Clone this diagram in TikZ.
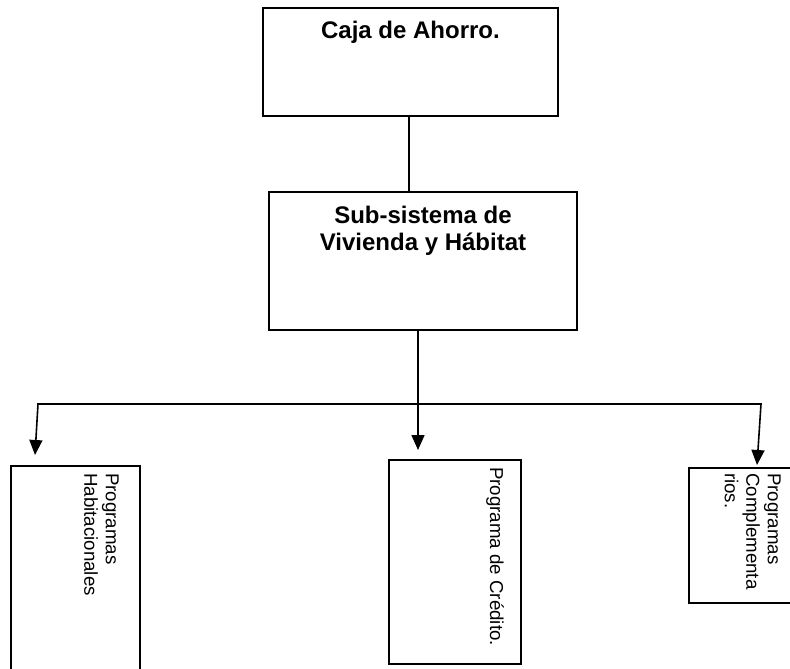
\documentclass[tikz,border=0pt]{standalone}
\usepackage{fontspec}
\setmainfont{Liberation Sans}
\usetikzlibrary{arrows.meta}
\begin{document}
\begin{tikzpicture}[x=1pt,y=-1pt,
  box/.style={draw, line width=1.6pt, inner sep=0pt, anchor=north west},
  ttl/.style={font=\fontsize{24}{27}\selectfont\bfseries, align=center, inner sep=0pt},
  vtxt/.style={font=\fontsize{18.7}{21.5}\selectfont, align=left, rotate=-90, anchor=north west, inner sep=0pt},
  con/.style={line width=1.6pt, line join=miter},
  arr/.style={con, -{Triangle[length=15pt,width=13pt]}}]
\path[use as bounding box] (0,0) rectangle (790,669);
\clip (0,0) rectangle (790,669);
\fill[white] (0,0) rectangle (790,669);
% boxes
\node[box, minimum width=295pt, minimum height=108pt] (caja) at (262,7) {};
\node[ttl, anchor=base] (cajat) at (410.5,39) {Caja de Ahorro.};
\node[box, minimum width=308pt, minimum height=138pt] (sub) at (268,191) {};
\node[ttl, anchor=north] (subt) at (423,206) {Sub-sistema de\\Vivienda y Hábitat};
\node[box, minimum width=129pt, minimum height=240pt] (b1) at (10,465) {};
\node[box, minimum width=132pt, minimum height=204pt] (b2) at (388,459) {};
\node[box, minimum width=120pt, minimum height=135pt] (b3) at (688,467) {};
\node[vtxt] (t1) at (119,473) {Programas\\Habitacionales};
\node[vtxt] (t2) at (504,467) {Programa de Crédito.};
\node[vtxt] (t3) at (781,473) {Programas\\Complementa\\rios.};
% connectors
\coordinate (k) at (409,115);
\coordinate (j) at (418,404);
\coordinate (hl) at (38,404);
\coordinate (hr) at (761,404);
\coordinate (a1) at (35,455);
\coordinate (a2) at (418,450);
\coordinate (a3) at (757,465);
\draw[con] (k |- caja.south) -- (k |- sub.north);
\draw[arr] (j |- sub.south) -- (a2);
\draw[arr] (j) -- (hl) -- (a1);
\draw[arr] (j) -- (hr) -- (a3);
\end{tikzpicture}
\end{document}
